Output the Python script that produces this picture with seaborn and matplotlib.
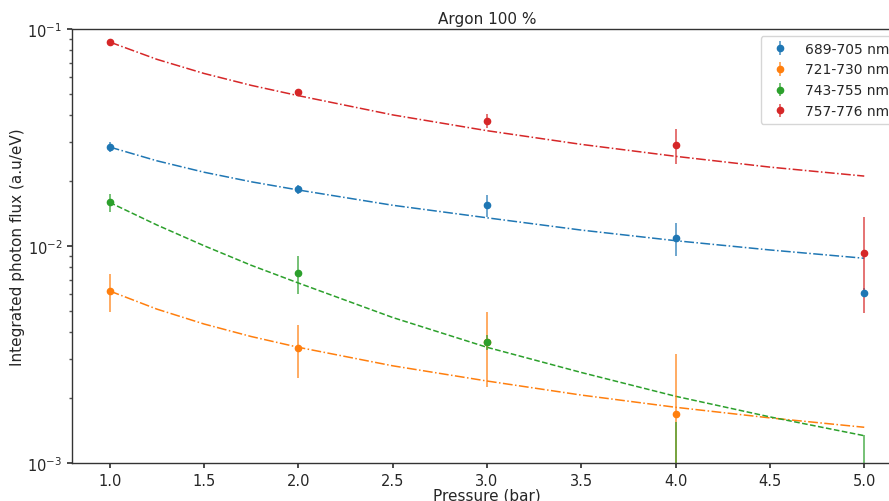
import numpy as np
import pandas as pd
import matplotlib
matplotlib.use("Agg")
import matplotlib.pyplot as plt
import seaborn as sns

# ---- data ----
pressure = [1.0, 2.0, 3.0, 4.0, 5.0]
labels = ["689-705 nm", "721-730 nm", "743-755 nm", "757-776 nm"]

flux_689 = [0.0286, 0.01825, 0.01545, 0.01085, 0.0061]
err_689 = [0.0016, 0.0009, 0.0018, 0.0019, 0.0003]
flux_721 = [0.0062, 0.0034, 0.00361, 0.001676, 0.0006]
err_721 = [0.00123, 0.00093, 0.00136, 0.0015, 0.0003]
flux_743 = [0.0159, 0.0075, 0.00361, 0.0008, 0.0005]
err_743 = [0.0015, 0.00146, 0.0003, 0.00075, 0.00084]
flux_757 = [0.0871, 0.0511, 0.0378, 0.0293, 0.00926]
err_757 = [0.0008, 0.0017, 0.0028, 0.0053, 0.00435]

# fitted curves read at these pressures
fit_p = [1.0, 1.25, 1.5, 1.75, 2.0, 2.5, 3.0, 3.5, 4.0, 4.5, 5.0]
fit_689 = [0.02858, 0.02470, 0.02188, 0.01977, 0.01812, 0.01541, 0.01349,
           0.01184, 0.01058, 0.00959, 0.00878]
fit_721 = [0.006203, 0.005119, 0.004371, 0.003827, 0.003414, 0.002805,
           0.002387, 0.002056, 0.001806, 0.001614, 0.001461]
fit_743 = [0.01587, 0.01250, 0.01003, 0.008150, 0.006753, 0.004683,
           0.003414, 0.002613, 0.002030, 0.001631, 0.001336]
fit_757 = [0.0871, 0.0725, 0.0624, 0.0550, 0.0493, 0.0402, 0.0340,
           0.0294, 0.0259, 0.0231, 0.0210]

fluxes = [flux_689, flux_721, flux_743, flux_757]
errs = [err_689, err_721, err_743, err_757]
fits = [fit_689, fit_721, fit_743, fit_757]
styles = ["-.", "-.", "--", "-."]

# ---- plot ----
sns.set_theme(style="ticks")
plt.rcParams["font.family"] = ["DejaVu Sans"]
plt.rcParams["axes.edgecolor"] = "#333333"

fig = plt.figure(figsize=(8.89, 5.02), dpi=100)
ax = fig.add_axes([0.081, 0.0757, 0.9336, 0.8645])

palette = sns.color_palette("tab10", 4)

for lab, f, e, fit, ls, col in zip(labels, fluxes, errs, fits, styles, palette):
    df_fit = pd.DataFrame({"p": fit_p, "v": fit})
    sns.lineplot(data=df_fit, x="p", y="v", ax=ax, color=col, linestyle=ls,
                 linewidth=1.1, legend=False, zorder=1.5)

for lab, f, e, col in zip(labels, fluxes, errs, palette):
    eb = ax.errorbar(pressure, f, yerr=e, fmt="o", color=col, markersize=4.5,
                     elinewidth=1.4, capsize=0, label=lab)
    for b in eb[2]:
        b.set_alpha(0.65)

ax.set_yscale("log")
ax.set_ylim(1e-3, 1e-1)
ax.set_xlim(0.8, 5.2)
ax.set_xticks(np.arange(1.0, 5.01, 0.5))
ax.tick_params(axis="both", labelsize=10.5, direction="out", length=3.5,
               color="#333333", left=True, bottom=True)
ax.tick_params(axis="y", which="minor", length=2, left=True, color="#555555")
ax.set_xlabel("Pressure (bar)", fontsize=11, labelpad=0)
ax.set_ylabel("Integrated photon flux (a.u/eV)", fontsize=11, labelpad=1.5)
ax.set_title("Argon 100 %", fontsize=11, pad=4)
ax.grid(False)
for s in ax.spines.values():
    s.set_visible(True)
    s.set_linewidth(1.0)

ax.legend(loc="upper right", fontsize=10, frameon=True, framealpha=0.8,
          edgecolor="#cccccc", fancybox=True)

fig.savefig("out.png", dpi=100)
